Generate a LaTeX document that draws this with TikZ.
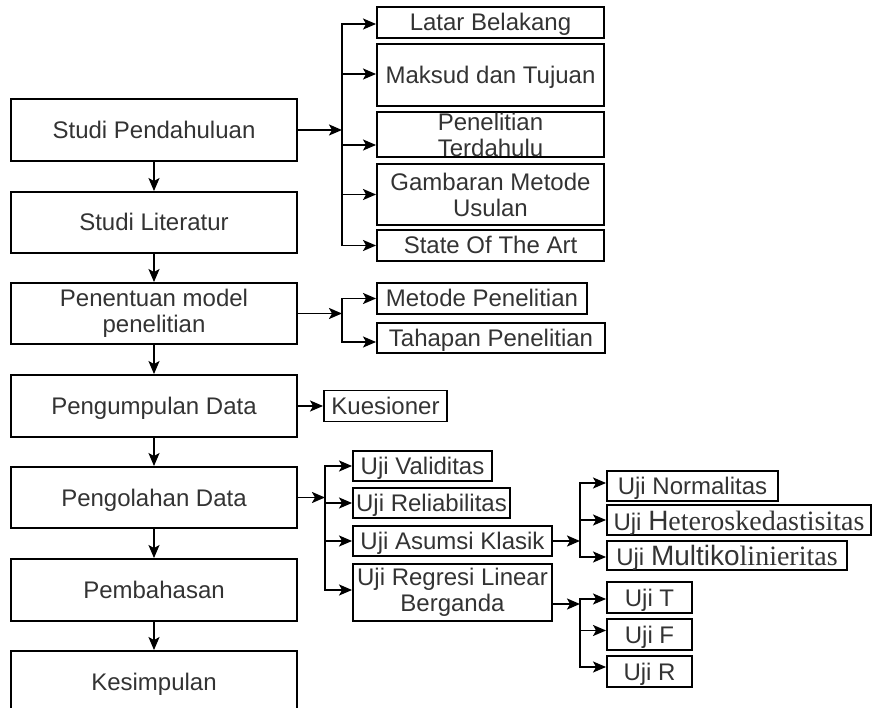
\documentclass[tikz,border=0pt]{standalone}
\usepackage{fontspec}
\setmainfont{Liberation Sans}
\newfontfamily\serifpart{Liberation Serif}
\usetikzlibrary{arrows.meta,calc}
\definecolor{txt}{HTML}{333333}
\begin{document}
\begin{tikzpicture}[x=1pt,y=-1pt,
  box/.style={draw=black, line width=1.9pt, inner sep=0pt, text=txt, align=center,
    font=\fontsize{24}{26}\selectfont},
  one/.style={text height=17pt, text depth=0pt},
  big/.style={text height=20pt, text depth=0pt},
  arr/.style={line width=1.9pt, -{Stealth[length=13pt,width=11pt,inset=3pt]}},
]
\useasboundingbox (0,0) rectangle (873,708);
% main column
\node[box, one, minimum width=286pt, minimum height=62pt] (sp) at (154,130) {Studi Pendahuluan};
\node[box, one, minimum width=286pt, minimum height=61pt] (sl) at (154,222.5) {Studi Literatur};
\node[box, minimum width=286pt, minimum height=61pt] (pm) at (154,313.5) {Penentuan model\\penelitian};
\node[box, one, minimum width=286pt, minimum height=62pt] (pd) at (154,406) {Pengumpulan Data};
\node[box, one, minimum width=286pt, minimum height=61pt] (po) at (154,497.5) {Pengolahan Data};
\node[box, one, minimum width=286pt, minimum height=62pt] (pb) at (154,590) {Pembahasan};
\node[box, one, minimum width=286pt, minimum height=62pt] (ks) at (154,682) {Kesimpulan};
\draw[arr] (sp.south) -- (sl.north);
\draw[arr] (sl.south) -- (pm.north);
\draw[arr] (pm.south) -- (pd.north);
\draw[arr] (pd.south) -- (po.north);
\draw[arr] (po.south) -- (pb.north);
\draw[arr] (pb.south) -- (ks.north);
% group 1
\node[box, one, minimum width=227pt, minimum height=31pt] (lb) at (490.5,22.5) {Latar Belakang};
\node[box, one, minimum width=227pt, minimum height=62pt] (mt) at (490.5,75) {Maksud dan Tujuan};
\node[box, minimum width=227pt, minimum height=45pt] (pt) at (490.5,134.5) {Penelitian\\Terdahulu};
\node[box, minimum width=227pt, minimum height=61pt] (gm) at (490.5,194.5) {Gambaran Metode\\Usulan};
\node[box, one, minimum width=227pt, minimum height=31pt] (sa) at (490.5,245.5) {State Of The Art};
\coordinate (b1) at (342,130);
\draw[arr] (sp.east) -- (b1);
\draw[arr] (b1) |- ($(lb.west)+(0,1.5)$);
\draw[arr] (b1) |- ($(mt.west)+(0,-1)$);
\draw[arr] (b1) |- ($(pt.west)+(0,10.5)$);
\draw[arr] (b1) |- (gm.west);
\draw[arr] (b1) |- (sa.west);
% group 2
\node[box, one, minimum width=210pt, minimum height=31pt] (me) at (482,298.5) {Metode Penelitian};
\node[box, one, minimum width=228pt, minimum height=30pt] (th) at (491,338) {Tahapan Penelitian};
\coordinate (b2) at (342,313.5);
\draw[arr] (pm.east) -- (b2);
\draw[arr] (b2) |- (me.west);
\draw[arr] (b2) |- ($(th.west)+(0,4)$);
% kuesioner
\node[box, one, minimum width=123pt, minimum height=31pt] (kq) at (385.5,406) {Kuesioner};
\draw[arr] (pd.east) -- (kq.west);
% group 3
\node[box, one, minimum width=139pt, minimum height=30pt] (uv) at (422.5,466) {Uji Validitas};
\node[box, one, minimum width=157pt, minimum height=30pt] (ur) at (431.5,503) {Uji Reliabilitas};
\node[box, one, minimum width=199pt, minimum height=30pt] (ua) at (452.5,541) {Uji Asumsi Klasik};
\node[box, minimum width=199pt, minimum height=57pt] (ug) at (452.5,592.5) {Uji Regresi Linear\\Berganda};
\coordinate (b3) at (325,497.5);
\draw[arr] (po.east) -- (b3);
\draw[arr] (b3) |- (uv.west);
\draw[arr] (b3) |- (ur.west);
\draw[arr] (b3) |- (ua.west);
\draw[arr] (b3) |- ($(ug.west)+(0,-2.5)$);
% group 4
\node[box, one, minimum width=171pt, minimum height=30pt] (un) at (692.5,486) {Uji Normalitas};
\node[box, big, minimum width=264pt, minimum height=30pt] (uh) at (739,520) {Uji {\fontsize{28}{30}\selectfont H\serifpart eteroskedastisitas}};
\node[box, big, minimum width=240pt, minimum height=29pt] (um) at (727,555.5) {Uji {\fontsize{28}{30}\selectfont Multiko\serifpart linieritas}};
\coordinate (b4) at (580,541);
\draw[arr] (ua.east) -- (b4);
\draw[arr] (b4) |- ($(un.west)+(0,-3)$);
\draw[arr] (b4) |- (uh.west);
\draw[arr] (b4) |- ($(um.west)+(0,1.5)$);
% group 5
\node[box, one, minimum width=85pt, minimum height=31pt] (ut) at (649.5,597.5) {Uji T};
\node[box, one, minimum width=85pt, minimum height=31pt] (uf) at (649.5,634.5) {Uji F};
\node[box, one, minimum width=85pt, minimum height=31pt] (uR) at (649.5,671.5) {Uji R};
\coordinate (b5) at (580,604);
\draw[arr] (ug.east |- b5) -- (b5);
\draw[arr] (b5) |- ($(ut.west)+(0,1.5)$);
\draw[arr] (b5) |- ($(uf.west)+(0,-4)$);
\draw[arr] (b5) |- ($(uR.west)+(0,-4.5)$);
\end{tikzpicture}
\end{document}
